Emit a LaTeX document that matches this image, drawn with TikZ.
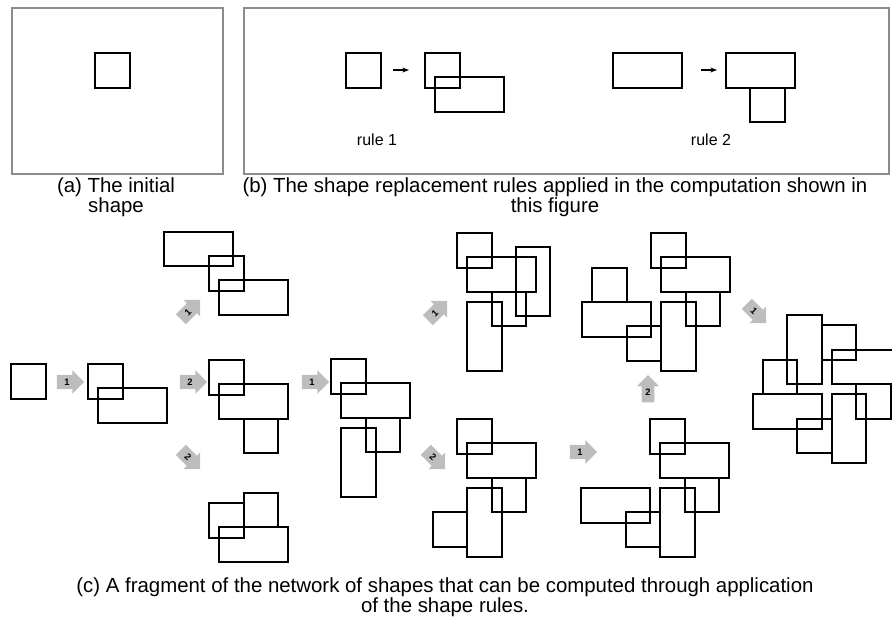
\documentclass[tikz,border=0pt]{standalone}
\usepackage{fontspec}
\setmainfont{Liberation Sans}
\usetikzlibrary{shapes.arrows, arrows.meta}
\definecolor{FrameGray}{HTML}{8C8C8C}
\definecolor{StepGray}{HTML}{BDBDBD}

\begin{document}
\begin{tikzpicture}[x=0.75pt, y=-0.75pt,
        shp/.style={draw=black, line width=1.5pt},
        frm/.style={draw=FrameGray, line width=1.7pt},
        unit/.style={x=25.875pt, y=-25.875pt},
        steparrow/.style={single arrow, fill=StepGray, inner sep=2.7pt, minimum height=20.5pt,
            single arrow head extend=3.6pt, font=\fontsize{7}{7}\selectfont\bfseries},
        captext/.style={font=\fontsize{15.3}{13.5}\selectfont, align=center}]
                \useasboundingbox (0,0) rectangle (892,626);
                \draw[frm] (12,8) rectangle (223,174);
                \draw[frm] (244,8) rectangle (889,174);
                \foreach \sx/\sy/\parts in {
                        95/53/{0/0/1/1},
                        346/53/{0/0/1/1},
                        425/53/{0/0/1/1, 0.3/0.7/2/1},
                        613/53/{0/0/2/1},
                        726/53/{0/0/2/1, 0.7/1/1/1},
                        11/364/{0/0/1/1},
                        88/364/{0/0/1/1, 0.3/0.7/2/1},
                        209/256/{0/0/1/1, 0.3/0.7/2/1, -1.3/-0.7/2/1},
                        209/360/{0/0/1/1, 0.3/0.7/2/1, 1/1.7/1/1},
                        209/503/{0/0/1/1, 0.3/0.7/2/1, 1/-0.3/1/1},
                        331/359/{0/0/1/1, 0.3/0.7/2/1, 1/1.7/1/1, 0.3/2/1/2},
                        457/233/{0/0/1/1, 0.3/0.7/2/1, 1/1.7/1/1, 0.3/2/1/2, 1.7/0.4/1/2},
                        457/419/{0/0/1/1, 0.3/0.7/2/1, 1/1.7/1/1, 0.3/2/1/2, -0.7/2.7/1/1},
                        650/419/{0/0/1/1, 0.3/0.7/2/1, 1/1.7/1/1, 0.3/2/1/2, -0.7/2.7/1/1, -2/2/2/1},
                        651/233/{0/0/1/1, 0.3/0.7/2/1, 1/1.7/1/1, 0.3/2/1/2, -0.7/2.7/1/1, -2/2/2/1, -1.7/1/1/1},
                        787/315/{0/0/1/2, 1/0.3/1/1, 1.3/1/2/1, -0.7/1.3/1/1, -1/2.3/2/1, 0.3/3/1/1, 1.3/2.3/1/2, 2/2/1/1}} {
                    \begin{scope}[shift={(\sx,\sy)}, unit]
                        \foreach \a/\b/\w/\h in \parts
                            \draw[shp] (\a,\b) rectangle ++(\w,\h);
                    \end{scope}
                }
                \coordinate (r1from) at (393,70);
                \coordinate (r1to) at (409,70);
                \coordinate (r2from) at (701,70);
                \coordinate (r2to) at (717,70);
                \draw[-{Stealth[length=5pt]}, line width=1pt] (r1from) -- (r1to);
                \draw[-{Stealth[length=5pt]}, line width=1pt] (r2from) -- (r2to);
                \node[font=\fontsize{12}{12}\selectfont] (rule1) at (377,140) {rule 1};
                \node[font=\fontsize{12}{12}\selectfont] (rule2) at (711,140) {rule 2};
                \node[steparrow] (s1) at (67,382) {1};
                \node[steparrow] (s2) at (190,382) {2};
                \node[steparrow, rotate=45] (s3) at (188,312) {1};
                \node[steparrow, rotate=-45] (s4) at (188,457) {2};
                \node[steparrow] (s5) at (312,382) {1};
                \node[steparrow, rotate=45] (s6) at (435,313) {1};
                \node[steparrow, rotate=-45] (s7) at (433,457) {2};
                \node[steparrow] (s8) at (580,452) {1};
                \node[steparrow, shape border rotate=90] (s9) at (648,392) {2};
                \node[steparrow, rotate=-45] (s10) at (754,311) {1};
                \node[captext] (capa) at (116,197) {(a) The initial\\shape};
                \node[captext] (capb) at (555,197) {(b) The shape replacement rules applied in the computation shown in\\this figure};
                \node[captext] (capc) at (445,597) {(c) A fragment of the network of shapes that can be computed through application\\of the shape rules.};
            \end{tikzpicture}
\end{document}
